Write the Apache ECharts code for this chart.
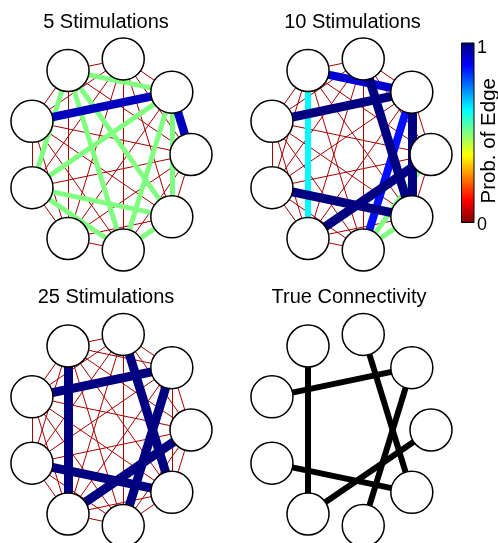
<!DOCTYPE html>
<html><head><meta charset="utf-8">
<script src="https://cdn.jsdelivr.net/npm/echarts@6/dist/echarts.min.js"></script>
<style>html,body{margin:0;padding:0;background:#fff}#c{width:498px;height:543px}</style>
</head><body><div id="c"></div>
<script>
// ---------------- data ----------------
const nodeCount = 9;                       // nodes around the ring, index 0 = rightmost, counter-clockwise
const panelTitles = ['5 Stimulations', '10 Stimulations', '25 Stimulations', 'True Connectivity'];
// inferred edges: [source, target, probability]; every other pair has backgroundProb
const edges5 = [[1,4,0.94],[0,1,0.94],[3,1,0.5],[3,5,0.5],[3,7,0.5],[3,8,0.5],[1,5,0.5],[1,7,0.5],[1,8,0.5],[5,8,0.5],[5,7,0.5],[7,8,0.5]];
const edges10 = [[3,1,0.92],[4,1,1],[3,6,0.63],[2,8,1],[1,7,0.86],[1,8,1],[5,8,1],[6,0,1],[0,7,0.5],[7,8,0.5]];
const edges25 = [[3,6,1],[4,1,1],[2,8,1],[1,7,1],[5,8,1],[0,6,1]];
const trueEdges = [[3,6],[4,1],[2,8],[1,7],[5,8],[0,6]];
const backgroundProb = 0.04;
const colorbarLabels = [0, 1];
const colorbarName = 'Prob. of Edge';

// ---------------- helpers ----------------
const FONT = "'Liberation Sans', Arial, Helvetica, sans-serif";
function clamp(v){ return Math.max(0, Math.min(1, v)); }
function jetX(x){ // MATLAB jet, x in [0,1]
  const r = clamp(1.5 - Math.abs(4*x - 3)), g = clamp(1.5 - Math.abs(4*x - 2)), b = clamp(1.5 - Math.abs(4*x - 1));
  return 'rgb(' + Math.round(r*255) + ',' + Math.round(g*255) + ',' + Math.round(b*255) + ')';
}
function probColor(p){ return jetX(1 - p); }   // reversed: 1 -> dark blue, 0 -> dark red
function probWidth(p){ return p < 0.1 ? 1 : 1 + 8*p; }

const nodes = [];
for (let i = 0; i < nodeCount; i++) {
  const a = i * 2 * Math.PI / nodeCount;
  nodes.push({ value: [Math.cos(a), Math.sin(a)] });
}

function buildLinks(strong, full){
  const key = (a,b) => Math.min(a,b) + '-' + Math.max(a,b);
  const map = {};
  strong.forEach(e => { map[key(e[0],e[1])] = e; });
  const links = [];
  if (full) {
    for (let i = 0; i < nodeCount; i++) for (let j = i+1; j < nodeCount; j++) {
      if (!map[key(i,j)]) links.push({ source: i, target: j, p: backgroundProb });
    }
  }
  strong.slice().sort((a,b) => a[2]-b[2]).forEach(e => links.push({ source: e[0], target: e[1], p: e[2] }));
  return links.map(l => ({ source: l.source, target: l.target,
    lineStyle: { color: probColor(l.p), width: probWidth(l.p), opacity: 1 } }));
}
const panelLinks = [
  buildLinks(edges5, true),
  buildLinks(edges10, true),
  buildLinks(edges25, true),
  trueEdges.map(e => ({ source: e[0], target: e[1], lineStyle: { color: '#000', width: 6, opacity: 1 } }))
];

// ---------------- layout ----------------
const panelBoxes = [
  { left: 27,  top: 57.5, width: 164, height: 194 },
  { left: 267, top: 57.5, width: 164, height: 194 },
  { left: 27,  top: 333,  width: 164, height: 194 },
  { left: 267, top: 333,  width: 164, height: 194 }
];
const titlePos = [[106, 22], [352.5, 22], [106, 297.5], [349, 297.5]];

const grid = [], xAxis = [], yAxis = [], series = [], graphic = [];
panelBoxes.forEach((b, k) => {
  grid.push(Object.assign({ containLabel: false, outerBoundsMode: 'none' }, b));
  xAxis.push({ gridIndex: k, type: 'value', min: -1, max: 1, show: false });
  yAxis.push({ gridIndex: k, type: 'value', min: -1, max: 1, show: false });
  series.push({
    type: 'graph', coordinateSystem: 'cartesian2d', xAxisIndex: k, yAxisIndex: k,
    symbol: 'circle', symbolSize: 42, silent: true, animation: false,
    itemStyle: { color: '#fff', borderColor: '#000', borderWidth: 1.5 },
    lineStyle: { opacity: 1, curveness: 0 },
    emphasis: { disabled: true }, label: { show: false },
    data: nodes, links: panelLinks[k]
  });
  graphic.push({ type: 'text', x: titlePos[k][0], y: titlePos[k][1], silent: true,
    style: { text: panelTitles[k], font: '20px ' + FONT, fill: '#000',
      align: 'center', verticalAlign: 'middle', textAlign: 'center', textVerticalAlign: 'middle' } });
});

// colorbar
const cb = 4;
grid.push({ left: 461.5, top: 43, width: 12.5, height: 179.5, show: true, borderColor: '#000', borderWidth: 1,
  backgroundColor: 'transparent', containLabel: false, outerBoundsMode: 'none', z: 5 });
xAxis.push({ gridIndex: cb, type: 'category', data: ['p'], show: false });
const isLabel = v => colorbarLabels.some(t => Math.abs(t - v) < 1e-6);
yAxis.push({ gridIndex: cb, type: 'value', min: 0, max: 1, interval: 0.1, position: 'right',
  axisLine: { show: false }, splitLine: { show: false },
  axisTick: { show: true, inside: true, length: 3, lineStyle: { color: '#000', width: 1 } },
  axisLabel: { show: true, margin: 3, fontSize: 18, fontFamily: FONT, color: '#000',
    formatter: v => isLabel(v) ? (v > 0.5 ? '{hi|' + Math.round(v) + '}' : '{lo|' + Math.round(v) + '}') : '',
    rich: { hi: { fontSize: 18, fontFamily: FONT, color: '#000', padding: [10, 0, 0, 0] },
            lo: { fontSize: 18, fontFamily: FONT, color: '#000', padding: [5, 0, 0, 0] } } },
  name: colorbarName, nameLocation: 'middle', nameRotate: 90, nameGap: 5, nameMoveOverlap: false,
  nameTextStyle: { fontSize: 20.5, fontFamily: FONT, color: '#000', padding: [0, 16, 0, 0] } });
yAxis.push({ gridIndex: cb, type: 'value', min: 0, max: 1, interval: 0.1, position: 'left',
  axisLine: { show: false }, splitLine: { show: false }, axisLabel: { show: false },
  axisTick: { show: true, inside: true, length: 3, lineStyle: { color: '#000', width: 1 } } });
const stops = [0, 0.125, 0.375, 0.625, 0.875, 1].map(o => ({ offset: o, color: jetX(o) }));
series.push({ type: 'bar', xAxisIndex: cb, yAxisIndex: cb, data: [1], barWidth: '100%', silent: true, animation: false,
  itemStyle: { color: new echarts.graphic.LinearGradient(0, 0, 0, 1, stops) } });

const chart = echarts.init(document.getElementById('c'), null, { renderer: 'canvas' });
chart.setOption({ animation: false, backgroundColor: '#fff', grid, xAxis, yAxis, series, graphic });
</script></body></html>
